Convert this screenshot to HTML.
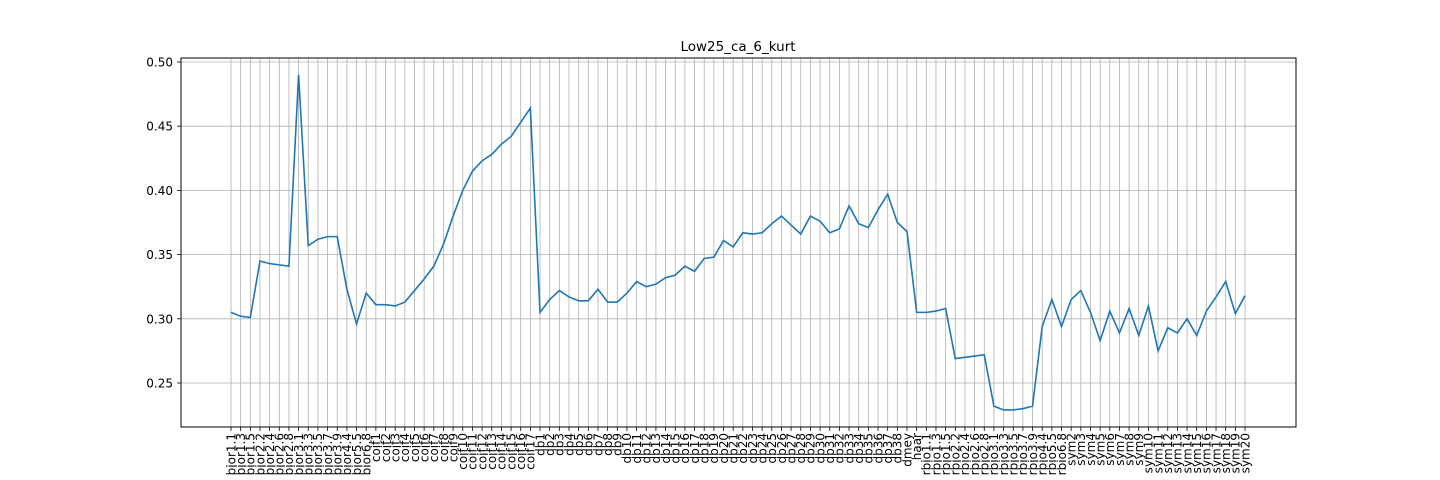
<!DOCTYPE html>
<html><head><meta charset="utf-8"><style>
body{margin:0;background:#fff;}
svg{display:block;font-family:"DejaVu Sans","Liberation Sans",sans-serif;}
</style></head><body>
<svg id="chart" width="1440" height="480">
<rect width="1440" height="480" fill="#fff"/>
<text x="738" y="51" font-size="13.5" text-anchor="middle">Low25_ca_6_kurt</text>
<g id="grid"></g><g id="xt"></g><g id="yt"></g>
<polyline id="line" fill="none" stroke="#1f77b4" stroke-width="1.6"/>
<rect x="181" y="58" width="1115" height="369" fill="none" stroke="#000" stroke-width="1"/>
</svg>
<script>
const categories=["bior1.1","bior1.3","bior1.5","bior2.2","bior2.4","bior2.6","bior2.8","bior3.1","bior3.3","bior3.5","bior3.7","bior3.9","bior4.4","bior5.5","bior6.8",
"coif1","coif2","coif3","coif4","coif5","coif6","coif7","coif8","coif9","coif10","coif11","coif12","coif13","coif14","coif15","coif16","coif17",
"db1","db2","db3","db4","db5","db6","db7","db8","db9","db10","db11","db12","db13","db14","db15","db16","db17","db18","db19","db20","db21","db22","db23","db24","db25","db26","db27","db28","db29","db30","db31","db32","db33","db34","db35","db36","db37","db38",
"dmey","haar","rbio1.1","rbio1.3","rbio1.5","rbio2.2","rbio2.4","rbio2.6","rbio2.8","rbio3.1","rbio3.3","rbio3.5","rbio3.7","rbio3.9","rbio4.4","rbio5.5","rbio6.8",
"sym2","sym3","sym4","sym5","sym6","sym7","sym8","sym9","sym10","sym11","sym12","sym13","sym14","sym15","sym16","sym17","sym18","sym19","sym20"];
const values=[0.305,0.302,0.301,0.345,0.343,0.342,0.341,0.490,0.357,0.362,0.364,0.364,0.323,0.296,0.320,
0.311,0.311,0.310,0.313,0.322,0.331,0.341,0.358,0.380,0.400,0.415,0.423,0.428,0.436,0.442,0.453,0.464,
0.305,0.315,0.322,0.317,0.314,0.314,0.323,0.313,0.313,0.320,0.329,0.325,0.327,0.332,0.334,0.341,0.337,0.347,0.348,0.361,0.356,0.367,0.366,0.367,0.374,0.380,0.373,0.366,0.380,0.376,0.367,0.370,0.388,0.374,0.371,0.385,0.397,0.375,
0.368,0.305,0.305,0.306,0.308,0.269,0.270,0.271,0.272,0.232,0.229,0.229,0.230,0.232,0.294,0.315,0.294,
0.315,0.322,0.305,0.283,0.306,0.289,0.308,0.287,0.310,0.275,0.293,0.289,0.300,0.287,0.306,0.317,0.329,0.304,0.318];
const yTicks=[0.25,0.30,0.35,0.40,0.45,0.50];
const yLabels=["0.25","0.30","0.35","0.40","0.45","0.50"];
const NS="http://www.w3.org/2000/svg";
const x0=231,x1=1245;
function xs(i){return x0+(x1-x0)*i/(categories.length-1);}
function ys(v){return 62+(0.5-v)/0.25*321;}
function mk(t,a,p){const e=document.createElementNS(NS,t);for(const k in a)e.setAttribute(k,a[k]);p.appendChild(e);return e;}
const grid=document.getElementById('grid'),xt=document.getElementById('xt'),yt=document.getElementById('yt');
categories.forEach((c,i)=>{
 const x=xs(i);
 const g=mk('line',{x1:x,x2:x,y1:58,y2:427,stroke:'#b0b0b0','stroke-width':0.8},grid);
 
 
 const tk=mk('line',{x1:x,x2:x,y1:427,y2:431,stroke:'#000','stroke-width':0.8},xt);
 
 
 const t=mk('text',{x:0,y:0,'font-size':12,'text-anchor':'end',transform:`translate(${x+4.3},433) rotate(-90)`},xt);
 t.textContent=c;
 
 
});
yTicks.forEach((v,i)=>{
 const y=ys(v);
 const g=mk('line',{x1:181,x2:1296,y1:y,y2:y,stroke:'#b0b0b0','stroke-width':0.8},grid);
 
 
 const tk=mk('line',{x1:177,x2:181,y1:y,y2:y,stroke:'#000','stroke-width':0.8},yt);
 
 
 const t=mk('text',{x:173,y:y+4.5,'font-size':12,'text-anchor':'end'},yt);
 t.textContent=yLabels[i];
 
 
});
document.getElementById('line').setAttribute('points',values.map((v,i)=>xs(i).toFixed(2)+','+ys(v).toFixed(2)).join(' '));
</script>
</body></html>
